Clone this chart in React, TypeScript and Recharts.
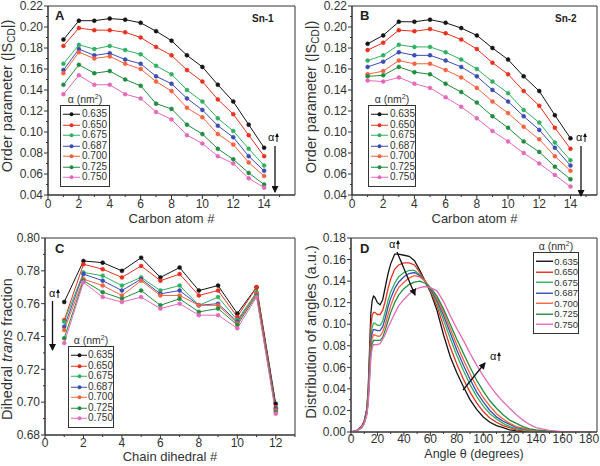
import type { ReactNode } from 'react';
import { Legend, Line, LineChart, ReferenceArea, XAxis, YAxis } from 'recharts';

const FONT = '"Liberation Sans", Arial, Helvetica, sans-serif';
const INK = '#333333';
// extra room above each plot so the top tick label is not clipped by the svg
const PAD = 10;

// area per lipid, one series per value
const alphaLabels = ['0.635', '0.650', '0.675', '0.687', '0.700', '0.725', '0.750'];
const alphaColors = ['#151515', '#e8301f', '#32b062', '#3b4db3', '#f4623f', '#1f8c3e', '#e46ab9'];

// A: Sn-1 order parameter
const carbonAtoms = [1, 2, 3, 4, 5, 6, 7, 8, 9, 10, 11, 12, 13, 14];
const sn1Order = [
  [0.188, 0.206, 0.206, 0.208, 0.207, 0.204, 0.196, 0.187, 0.173, 0.162, 0.145, 0.129, 0.107, 0.085],
  [0.182, 0.199, 0.197, 0.197, 0.195, 0.190, 0.181, 0.173, 0.159, 0.148, 0.131, 0.117, 0.097, 0.077],
  [0.165, 0.183, 0.179, 0.182, 0.178, 0.174, 0.163, 0.155, 0.140, 0.129, 0.113, 0.101, 0.084, 0.068],
  [0.159, 0.179, 0.173, 0.175, 0.169, 0.165, 0.153, 0.146, 0.132, 0.121, 0.106, 0.095, 0.077, 0.063],
  [0.156, 0.176, 0.170, 0.172, 0.165, 0.160, 0.148, 0.139, 0.123, 0.114, 0.098, 0.088, 0.071, 0.058],
  [0.145, 0.164, 0.156, 0.158, 0.150, 0.144, 0.127, 0.122, 0.107, 0.098, 0.084, 0.074, 0.061, 0.050],
  [0.136, 0.154, 0.145, 0.145, 0.136, 0.132, 0.119, 0.112, 0.097, 0.089, 0.077, 0.070, 0.056, 0.047],
];

// B: Sn-2 order parameter
const sn2Order = [
  [0.184, 0.192, 0.205, 0.205, 0.207, 0.204, 0.199, 0.192, 0.180, 0.169, 0.153, 0.139, 0.116, 0.094],
  [0.178, 0.185, 0.197, 0.196, 0.198, 0.194, 0.188, 0.179, 0.166, 0.155, 0.139, 0.125, 0.104, 0.084],
  [0.168, 0.173, 0.183, 0.181, 0.181, 0.176, 0.169, 0.160, 0.148, 0.137, 0.121, 0.109, 0.090, 0.073],
  [0.162, 0.167, 0.176, 0.173, 0.173, 0.168, 0.162, 0.153, 0.140, 0.129, 0.115, 0.102, 0.085, 0.068],
  [0.155, 0.158, 0.168, 0.165, 0.165, 0.159, 0.152, 0.142, 0.129, 0.118, 0.105, 0.093, 0.077, 0.063],
  [0.153, 0.154, 0.162, 0.157, 0.155, 0.146, 0.138, 0.128, 0.115, 0.104, 0.091, 0.081, 0.067, 0.055],
  [0.149, 0.148, 0.152, 0.146, 0.142, 0.133, 0.124, 0.113, 0.101, 0.091, 0.080, 0.070, 0.059, 0.048],
];

// C: dihedral trans fraction
const chainDihedrals = [1, 2, 3, 4, 5, 6, 7, 8, 9, 10, 11, 12];
const transFraction = [
  [0.761, 0.786, 0.785, 0.780, 0.788, 0.776, 0.782, 0.768, 0.771, 0.754, 0.770, 0.699],
  [0.750, 0.784, 0.781, 0.776, 0.783, 0.774, 0.778, 0.765, 0.768, 0.752, 0.770, 0.697],
  [0.749, 0.779, 0.777, 0.771, 0.776, 0.768, 0.771, 0.759, 0.764, 0.750, 0.767, 0.696],
  [0.746, 0.778, 0.774, 0.768, 0.775, 0.766, 0.768, 0.759, 0.760, 0.749, 0.766, 0.696],
  [0.744, 0.775, 0.771, 0.765, 0.774, 0.765, 0.765, 0.759, 0.759, 0.748, 0.766, 0.695],
  [0.739, 0.774, 0.767, 0.763, 0.768, 0.759, 0.763, 0.755, 0.757, 0.747, 0.765, 0.694],
  [0.736, 0.773, 0.764, 0.761, 0.764, 0.757, 0.760, 0.753, 0.753, 0.745, 0.764, 0.693],
];

// D: distribution of tilt angles
const angleDeg = [
  0, 4, 8, 10, 12, 13, 14, 15, 16, 17, 18, 20, 22, 24, 26, 28, 30, 33, 36, 40, 44, 48, 52, 56, 60,
  65, 70, 75, 80, 85, 90, 95, 100, 105, 110, 115, 120, 125, 130, 135, 140, 150, 160, 170, 180,
];
const angleDist = [
  [0, 0.001, 0.005, 0.010, 0.022, 0.040, 0.075, 0.110, 0.122, 0.126, 0.125, 0.120, 0.118, 0.123, 0.135, 0.147, 0.156,
    0.165, 0.165, 0.164, 0.163, 0.159, 0.150, 0.140, 0.130, 0.113, 0.090, 0.070, 0.055, 0.042, 0.030, 0.021, 0.014,
    0.009, 0.006, 0.004, 0.002, 0.001, 0.0005, 0.0002, 0, 0, 0, 0, 0],
  [0, 0.001, 0.005, 0.010, 0.021, 0.037, 0.068, 0.098, 0.108, 0.111, 0.111, 0.109, 0.109, 0.113, 0.122, 0.133, 0.142,
    0.151, 0.155, 0.157, 0.157, 0.155, 0.148, 0.140, 0.131, 0.117, 0.098, 0.079, 0.063, 0.049, 0.037, 0.027, 0.019,
    0.013, 0.009, 0.006, 0.004, 0.002, 0.001, 0.0005, 0.0002, 0, 0, 0, 0],
  [0, 0.001, 0.004, 0.009, 0.020, 0.034, 0.062, 0.088, 0.097, 0.101, 0.101, 0.099, 0.099, 0.103, 0.112, 0.122, 0.130,
    0.138, 0.144, 0.148, 0.150, 0.150, 0.146, 0.140, 0.132, 0.120, 0.104, 0.087, 0.071, 0.057, 0.044, 0.033, 0.024,
    0.017, 0.012, 0.008, 0.005, 0.003, 0.002, 0.001, 0.0005, 0.0001, 0, 0, 0],
  [0, 0.001, 0.004, 0.009, 0.019, 0.032, 0.058, 0.083, 0.092, 0.095, 0.095, 0.094, 0.094, 0.098, 0.106, 0.116, 0.124,
    0.133, 0.139, 0.144, 0.147, 0.148, 0.145, 0.140, 0.133, 0.122, 0.108, 0.092, 0.076, 0.062, 0.049, 0.037, 0.028,
    0.020, 0.014, 0.010, 0.007, 0.004, 0.003, 0.002, 0.001, 0.0002, 0, 0, 0],
  [0, 0.001, 0.004, 0.008, 0.018, 0.030, 0.054, 0.078, 0.087, 0.090, 0.090, 0.089, 0.089, 0.093, 0.100, 0.109, 0.117,
    0.127, 0.134, 0.139, 0.143, 0.145, 0.144, 0.140, 0.134, 0.124, 0.111, 0.096, 0.081, 0.067, 0.054, 0.042, 0.032,
    0.024, 0.017, 0.012, 0.008, 0.005, 0.0035, 0.002, 0.0012, 0.0004, 0.0001, 0, 0],
  [0, 0.001, 0.004, 0.008, 0.017, 0.028, 0.050, 0.073, 0.082, 0.085, 0.085, 0.085, 0.085, 0.088, 0.095, 0.103, 0.111,
    0.120, 0.127, 0.133, 0.137, 0.139, 0.140, 0.138, 0.134, 0.126, 0.114, 0.100, 0.086, 0.073, 0.060, 0.048, 0.038,
    0.029, 0.022, 0.016, 0.011, 0.008, 0.005, 0.003, 0.002, 0.0007, 0.0002, 0, 0],
  [0, 0.001, 0.004, 0.008, 0.016, 0.026, 0.047, 0.069, 0.078, 0.081, 0.081, 0.081, 0.082, 0.086, 0.091, 0.097, 0.102,
    0.110, 0.117, 0.123, 0.128, 0.132, 0.134, 0.135, 0.134, 0.131, 0.121, 0.108, 0.096, 0.085, 0.073, 0.062, 0.052,
    0.043, 0.035, 0.028, 0.022, 0.016, 0.011, 0.007, 0.004, 0.0015, 0.0003, 0, 0],
];

const seriesKeys = alphaLabels.map((_, i) => `a${i}`);

function toRows(xs: number[], series: number[][]) {
  return xs.map((x, i) => {
    const row: Record<string, number> = { x };
    series.forEach((s, k) => {
      row[seriesKeys[k]] = s[i];
    });
    return row;
  });
}

function steps(from: number, to: number, step: number) {
  const out: number[] = [];
  const n = Math.round((to - from) / step);
  for (let i = 0; i <= n; i++) out.push(Math.round((from + i * step) * 1000) / 1000);
  return out;
}

const everyOther = (unit: number) => (v: number) => Math.round(v / unit) % 2 === 0;

function makeXTick(isMajor: (v: number) => boolean, fmt: (v: number) => string, dy: number) {
  return function XTick(props: any) {
    const { x, y, payload } = props;
    const major = isMajor(payload.value);
    return (
      <g>
        <line x1={x} x2={x} y1={y} y2={y + (major ? 4 : 2)} stroke={INK} />
        {major && (
          <text x={x} y={y + dy} textAnchor="middle" fontSize={12} fill={INK} fontFamily={FONT}>
            {fmt(payload.value)}
          </text>
        )}
      </g>
    );
  };
}

function makeYTick(isMajor: (v: number) => boolean, fmt: (v: number) => string) {
  return function YTick(props: any) {
    const { x, y, payload } = props;
    const major = isMajor(payload.value);
    return (
      <g>
        <line x1={x} x2={x - (major ? 4 : 2)} y1={y} y2={y} stroke={INK} />
        {major && (
          <text x={x - 5} y={y + 4.2} textAnchor="end" fontSize={12} fill={INK} fontFamily={FONT}>
            {fmt(payload.value)}
          </text>
        )}
      </g>
    );
  };
}

function makeLegend(dotted: boolean, fontSize: number, rowH: number) {
  return function AlphaLegend(props: any) {
    const items = props.payload ?? [];
    return (
      <div style={{ fontFamily: FONT, fontSize, color: INK, lineHeight: 1 }}>
        <div style={{ textAlign: 'center', height: 11, fontSize: 10.5, whiteSpace: 'nowrap' }}>
          α (nm<span style={{ fontSize: 7, position: 'relative', top: -4 }}>2</span>)
        </div>
        <div style={{ border: `1px solid ${INK}`, padding: '3px 0 3px 1px', background: '#fff' }}>
          {items.map((it: any) => (
            <div key={it.value} style={{ display: 'flex', alignItems: 'center', height: rowH }}>
              <svg width={19} height={rowH} style={{ display: 'block' }}>
                <line x1={1} x2={18} y1={rowH / 2} y2={rowH / 2} stroke={it.color} strokeWidth={dotted ? 1 : 1.4} />
                {dotted && <circle cx={9.5} cy={rowH / 2} r={2} fill={it.color} />}
              </svg>
              <span style={{ marginLeft: 1 }}>{it.value}</span>
            </div>
          ))}
        </div>
      </div>
    );
  };
}

interface PanelProps {
  left: number;
  top: number;
  margin: { top: number; right: number; left: number; bottom: number };
  xAxisHeight: number;
  rows: Record<string, number>[];
  xDomain: [number, number];
  yDomain: [number, number];
  xTicks: number[];
  yTicks: number[];
  xMajor: (v: number) => boolean;
  yMajor: (v: number) => boolean;
  xTickDy: number;
  xLabel: string;
  xLabelOffset: number;
  xLabelSize: number;
  yLabel: ReactNode;
  yLabelAt: [number, number];
  dots: boolean;
  lineWidth: number;
  legendAt: { left: number; top: number; width: number; fontSize: number; rowH: number };
}

function Panel(p: PanelProps) {
  const lx = p.yLabelAt[0];
  const ly = p.yLabelAt[1] + PAD;
  return (
    <div style={{ position: 'absolute', left: p.left, top: p.top - PAD }}>
      <LineChart width={300} height={233 + PAD} data={p.rows} margin={{ ...p.margin, top: p.margin.top + PAD }}>
        <XAxis
          dataKey="x"
          type="number"
          domain={p.xDomain}
          ticks={p.xTicks}
          interval={0}
          height={p.xAxisHeight}
          allowDataOverflow
          axisLine={{ stroke: INK }}
          tickLine={false}
          tickSize={0}
          tickMargin={0}
          tick={makeXTick(p.xMajor, (v) => String(v), p.xTickDy)}
          label={{ value: p.xLabel, position: 'insideBottom', offset: p.xLabelOffset, fontSize: p.xLabelSize, fill: INK, fontFamily: FONT }}
        />
        <YAxis
          type="number"
          domain={p.yDomain}
          ticks={p.yTicks}
          interval={0}
          width={40}
          allowDataOverflow
          axisLine={{ stroke: INK }}
          tickLine={false}
          tickSize={0}
          tickMargin={0}
          tick={makeYTick(p.yMajor, (v) => v.toFixed(2))}
          label={() => (
            <text x={lx} y={ly} transform={`rotate(-90, ${lx}, ${ly})`} textAnchor="middle" fontSize={14.5} fill={INK} fontFamily={FONT}>
              {p.yLabel}
            </text>
          )}
        />
        <ReferenceArea x1={p.xDomain[0]} x2={p.xDomain[1]} y1={p.yDomain[0]} y2={p.yDomain[1]} fill="none" stroke={INK} strokeWidth={1} />
        {seriesKeys.map((k, i) => (
          <Line
            key={k}
            dataKey={k}
            name={alphaLabels[i]}
            type="linear"
            stroke={alphaColors[i]}
            strokeWidth={p.lineWidth}
            dot={p.dots ? { r: 2, fill: alphaColors[i], stroke: alphaColors[i], strokeWidth: 0.5 } : false}
            activeDot={false}
            isAnimationActive={false}
          />
        ))}
        <Legend
          layout="vertical"
          align="center"
          verticalAlign="middle"
          wrapperStyle={{ left: p.legendAt.left, top: p.legendAt.top + PAD, width: p.legendAt.width }}
          content={makeLegend(p.dots, p.legendAt.fontSize, p.legendAt.rowH)}
        />
      </LineChart>
    </div>
  );
}

function Arrow({ x1, y1, x2, y2 }: { x1: number; y1: number; x2: number; y2: number }) {
  return <line x1={x1} y1={y1} x2={x2} y2={y2} stroke="#111" strokeWidth={1.3} markerEnd="url(#head)" />;
}

function AlphaUp({ x, y }: { x: number; y: number }) {
  return (
    <g>
      <text x={x} y={y} fontSize={11} fill="#111" fontFamily={FONT}>α</text>
      <line x1={x + 9} y1={y + 1} x2={x + 9} y2={y - 7} stroke="#111" strokeWidth={1} markerEnd="url(#small)" />
    </g>
  );
}

export default function App() {
  const orderYTicks = steps(0.04, 0.22, 0.01);
  const sLabel = <>Order parameter (|S<tspan dy={3} fontSize={10}>CD</tspan><tspan dy={-3}>|)</tspan></>;
  return (
    <div style={{ position: 'absolute', left: 0, top: 0, width: 600, height: 466, background: '#fff', fontFamily: FONT, overflow: 'hidden' }}>
      <Panel
        left={0}
        top={0}
        margin={{ top: 6, right: 5, left: 8, bottom: 0 }}
        xAxisHeight={38}
        rows={toRows(carbonAtoms, sn1Order)}
        xDomain={[0, 16]}
        yDomain={[0.04, 0.22]}
        xTicks={steps(0, 15, 1)}
        yTicks={orderYTicks}
        xMajor={everyOther(1)}
        yMajor={everyOther(0.01)}
        xTickDy={13}
        xLabel="Carbon atom #"
        xLabelOffset={10}
        xLabelSize={13}
        yLabel={sLabel}
        yLabelAt={[12, 96]}
        dots
        lineWidth={1}
        legendAt={{ left: 60, top: 94, width: 50, fontSize: 10, rowH: 10.5 }}
      />
      <Panel
        left={300}
        top={0}
        margin={{ top: 6, right: 3, left: 12, bottom: 0 }}
        xAxisHeight={38}
        rows={toRows(carbonAtoms, sn2Order)}
        xDomain={[0, 15.7]}
        yDomain={[0.04, 0.22]}
        xTicks={steps(0, 15, 1)}
        yTicks={orderYTicks}
        xMajor={everyOther(1)}
        yMajor={everyOther(0.01)}
        xTickDy={13}
        xLabel="Carbon atom #"
        xLabelOffset={10}
        xLabelSize={13}
        yLabel={sLabel}
        yLabelAt={[16, 97]}
        dots
        lineWidth={1}
        legendAt={{ left: 68, top: 94, width: 48, fontSize: 10, rowH: 10.5 }}
      />
      <Panel
        left={0}
        top={233}
        margin={{ top: 5, right: 5, left: 5, bottom: 0 }}
        xAxisHeight={31}
        rows={toRows(chainDihedrals, transFraction)}
        xDomain={[0, 13]}
        yDomain={[0.68, 0.8]}
        xTicks={steps(0, 13, 1)}
        yTicks={steps(0.68, 0.8, 0.01)}
        xMajor={(v) => v % 2 === 0 && v <= 12}
        yMajor={everyOther(0.01)}
        xTickDy={12}
        xLabel="Chain dihedral #"
        xLabelOffset={5}
        xLabelSize={13}
        yLabel={<>Dihedral <tspan fontStyle="italic">trans</tspan> fraction</>}
        yLabelAt={[12, 116]}
        dots
        lineWidth={1}
        legendAt={{ left: 68, top: 102, width: 46, fontSize: 10, rowH: 10.5 }}
      />
      <Panel
        left={300}
        top={233}
        margin={{ top: 5, right: 3, left: 11, bottom: 0 }}
        xAxisHeight={34}
        rows={toRows(angleDeg, angleDist)}
        xDomain={[0, 186]}
        yDomain={[0, 0.18]}
        xTicks={steps(0, 180, 10)}
        yTicks={steps(0, 0.18, 0.01)}
        xMajor={everyOther(10)}
        yMajor={everyOther(0.01)}
        xTickDy={11}
        xLabel="Angle θ (degrees)"
        xLabelOffset={8}
        xLabelSize={12.5}
        yLabel="Distribution of angles (a.u.)"
        yLabelAt={[16, 99]}
        dots={false}
        lineWidth={1.3}
        legendAt={{ left: 233, top: 8, width: 46, fontSize: 9.5, rowH: 10.5 }}
      />
      <svg width={600} height={466} style={{ position: 'absolute', left: 0, top: 0, pointerEvents: 'none' }}>
        <defs>
          <marker id="head" markerWidth={7} markerHeight={7} refX={6} refY={3.5} orient="auto" markerUnits="userSpaceOnUse">
            <path d="M0,0 L7,3.5 L0,7 z" fill="#111" />
          </marker>
          <marker id="small" markerWidth={4} markerHeight={4} refX={3} refY={2} orient="auto" markerUnits="userSpaceOnUse">
            <path d="M0,0 L4,2 L0,4 z" fill="#111" />
          </marker>
        </defs>
        <g fontFamily={FONT} fontWeight="bold" fill="#222">
          <text x={55} y={20} fontSize={13}>A</text>
          <text x={252} y={22} fontSize={10}>Sn-1</text>
          <text x={360} y={20} fontSize={13}>B</text>
          <text x={555} y={22} fontSize={10}>Sn-2</text>
          <text x={55} y={253} fontSize={13}>C</text>
          <text x={360} y={253} fontSize={13}>D</text>
        </g>
        <Arrow x1={275} y1={146} x2={275} y2={192} />
        <AlphaUp x={268} y={141} />
        <Arrow x1={581} y1={146} x2={581} y2={196} />
        <AlphaUp x={576} y={141} />
        <Arrow x1={52.5} y1={301} x2={52.5} y2={350} />
        <AlphaUp x={49} y={297} />
        <Arrow x1={397} y1={252} x2={415} y2={295} />
        <AlphaUp x={389} y={248} />
        <Arrow x1={463} y1={390} x2={485} y2={363} />
        <AlphaUp x={490} y={360} />
      </svg>
    </div>
  );
}
